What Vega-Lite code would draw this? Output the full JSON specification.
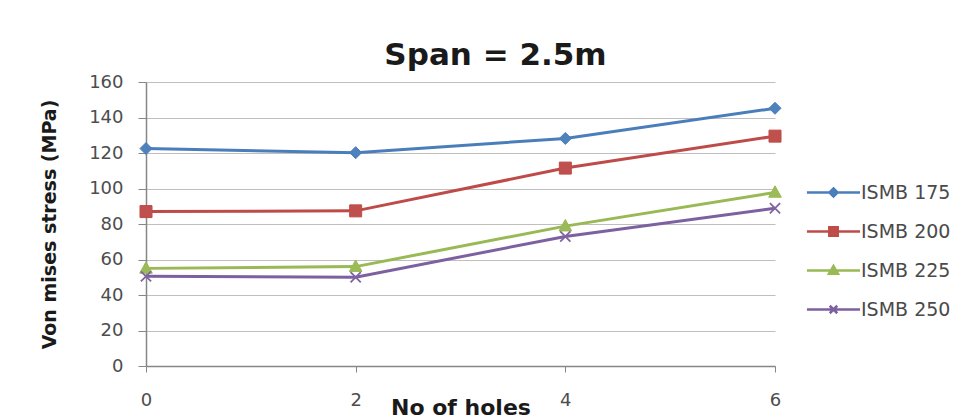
{
  "$schema": "https://vega.github.io/schema/vega-lite/v6.json",
  "width": 629,
  "height": 284,
  "autosize": {"type": "none"},
  "padding": {"left": 146, "top": 82, "right": 197, "bottom": 53},
  "background": "#ffffff",
  "config": {
    "font": "DejaVu Sans",
    "view": {"stroke": null}
  },
  "title": {
    "text": "Span = 2.5m",
    "font": "DejaVu Sans",
    "fontSize": 31,
    "fontWeight": "bold",
    "color": "#1a1a1a",
    "anchor": "middle",
    "frame": "group",
    "baseline": "alphabetic",
    "dx": 35,
    "offset": -23
  },
  "data": {
    "values": [
      {"holes": 0, "stress": 122.5, "series": "ISMB 175"},
      {"holes": 2, "stress": 120.2, "series": "ISMB 175"},
      {"holes": 4, "stress": 128.2, "series": "ISMB 175"},
      {"holes": 6, "stress": 145.2, "series": "ISMB 175"},
      {"holes": 0, "stress": 87.0, "series": "ISMB 200"},
      {"holes": 2, "stress": 87.4, "series": "ISMB 200"},
      {"holes": 4, "stress": 111.5, "series": "ISMB 200"},
      {"holes": 6, "stress": 129.5, "series": "ISMB 200"},
      {"holes": 0, "stress": 55.0, "series": "ISMB 225"},
      {"holes": 2, "stress": 56.0, "series": "ISMB 225"},
      {"holes": 4, "stress": 78.8, "series": "ISMB 225"},
      {"holes": 6, "stress": 97.8, "series": "ISMB 225"},
      {"holes": 0, "stress": 50.5, "series": "ISMB 250"},
      {"holes": 2, "stress": 50.0, "series": "ISMB 250"},
      {"holes": 4, "stress": 73.0, "series": "ISMB 250"},
      {"holes": 6, "stress": 88.9, "series": "ISMB 250"}
    ]
  },
  "encoding": {
    "x": {
      "field": "holes",
      "type": "quantitative",
      "scale": {"domain": [0, 6], "nice": false},
      "axis": {
        "title": "No of holes",
        "values": [0, 2, 4, 6],
        "grid": false,
        "labelFlush": false,
        "domainColor": "#868686",
        "domainWidth": 1.5,
        "tickColor": "#868686",
        "tickSize": 6,
        "labelFontSize": 18,
        "labelColor": "#4d4d4d",
        "labelBaseline": "middle",
        "labelPadding": 28,
        "titleFontSize": 22,
        "titleFontWeight": "bold",
        "titleColor": "#1a1a1a",
        "titleBaseline": "alphabetic",
        "titleY": 48
      }
    },
    "y": {
      "field": "stress",
      "type": "quantitative",
      "scale": {"domain": [0, 160], "nice": false},
      "axis": {
        "title": "Von mises stress (MPa)",
        "values": [0, 20, 40, 60, 80, 100, 120, 140, 160],
        "grid": true,
        "gridColor": "#bfbfbf",
        "gridWidth": 1,
        "domainColor": "#868686",
        "domainWidth": 1.5,
        "tickColor": "#868686",
        "tickSize": 8,
        "labelFontSize": 18,
        "labelColor": "#4d4d4d",
        "labelPadding": 15,
        "titleFontSize": 19,
        "titleFontWeight": "bold",
        "titleColor": "#1a1a1a",
        "titleX": -87,
        "titleY": 142
      }
    }
  },
  "layer": [
    {
      "mark": {"type": "line", "strokeWidth": 3},
      "encoding": {
        "color": {
          "field": "series",
          "type": "nominal",
          "scale": {
            "domain": ["ISMB 175", "ISMB 200", "ISMB 225", "ISMB 250"],
            "range": ["#4A7EBB", "#BE4B48", "#98B954", "#7D60A0"]
          },
          "legend": {
            "title": null,
            "orient": "none",
            "legendX": 671,
            "legendY": 94,
            "padding": 0,
            "symbolSize": 900,
            "rowPadding": 12,
            "labelOffset": 11,
            "labelFontSize": 19,
            "labelColor": "#4a4a4a",
            "labelFont": "DejaVu Sans",
            "encode": {
              "symbols": {
                "update": {
                  "shape": {"signal": "datum.value === 'ISMB 175' ? 'M-1.77,0H1.77M0,-0.27L0.27,0L0,0.27L-0.27,0Z' : datum.value === 'ISMB 200' ? 'M-1.77,0H1.77M-0.28,-0.28H0.28V0.28H-0.28Z' : datum.value === 'ISMB 225' ? 'M-1.77,0H1.77M0,-0.3L0.3,0.22L-0.3,0.22Z' : 'M-1.77,0H1.77M-0.25,-0.25L0.25,0.25M-0.25,0.25L0.25,-0.25'"},
                  "fill": {"signal": "datum.value === 'ISMB 175' ? '#4F81BD' : datum.value === 'ISMB 200' ? '#C0504D' : datum.value === 'ISMB 225' ? '#9BBB59' : '#8064A2'"},
                  "stroke": {"signal": "datum.value === 'ISMB 175' ? '#4A7EBB' : datum.value === 'ISMB 200' ? '#BE4B48' : datum.value === 'ISMB 225' ? '#98B954' : '#7D60A0'"},
                  "strokeWidth": {"value": 2.5},
                  "size": {"value": 900},
                  "opacity": {"value": 1},
                  "fillOpacity": {"value": 1}
                }
              }
            }
          }
        }
      }
    },
    {
      "transform": [{"filter": "datum.series === 'ISMB 175'"}],
      "mark": {"type": "point", "shape": "M0,-1L1,0L0,1L-1,0Z", "size": 144, "filled": true, "fill": "#4F81BD", "stroke": "#4A7EBB", "strokeWidth": 1, "opacity": 1}
    },
    {
      "transform": [{"filter": "datum.series === 'ISMB 200'"}],
      "mark": {"type": "point", "shape": "M-1,-1H1V1H-1Z", "size": 144, "filled": true, "fill": "#C0504D", "stroke": "#BE4B48", "strokeWidth": 1, "opacity": 1}
    },
    {
      "transform": [{"filter": "datum.series === 'ISMB 225'"}],
      "mark": {"type": "point", "shape": "M0,-1.1L1.05,0.8L-1.05,0.8Z", "size": 144, "filled": true, "fill": "#9BBB59", "stroke": "#98B954", "strokeWidth": 1, "opacity": 1}
    },
    {
      "transform": [{"filter": "datum.series === 'ISMB 250'"}],
      "mark": {"type": "point", "shape": "M-0.85,-0.85L0.85,0.85M-0.85,0.85L0.85,-0.85", "size": 144, "filled": false, "stroke": "#8064A2", "strokeWidth": 1.8, "opacity": 1}
    }
  ]
}
